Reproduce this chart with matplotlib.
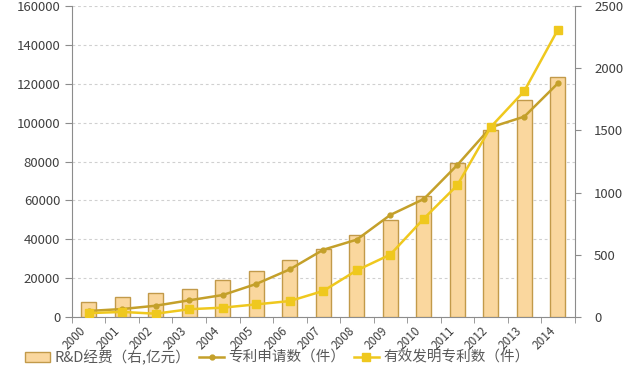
import numpy as np
import matplotlib
matplotlib.use('Agg')
import matplotlib.pyplot as plt

plt.rcParams['font.family'] = ['Noto Sans CJK SC', 'DejaVu Sans']

years = ['2000', '2001', '2002', '2003', '2004', '2005', '2006', '2007',
         '2008', '2009', '2010', '2011', '2012', '2013', '2014']
rd_spend = [121, 164, 191, 225, 295, 367, 459, 549, 657, 783, 970, 1238, 1503, 1744, 1927]
patent_apps = [3100, 4100, 5800, 8600, 11300, 17000, 24500, 34600, 39800, 52500,
               60700, 78200, 97600, 103100, 120200]
valid_patents = [2000, 2600, 1700, 4000, 4800, 6500, 8200, 13400, 24000, 32100,
                 50600, 67800, 97800, 116300, 147800]
left_ticks = [0, 20000, 40000, 60000, 80000, 100000, 120000, 140000, 160000]
right_ticks = [0, 500, 1000, 1500, 2000, 2500]

x = np.arange(len(years))
gray = '#8c8c8c'
txt = '#404040'

fig = plt.figure(figsize=(6.33, 3.78), dpi=100)
ax = fig.add_axes([0.1137, 0.1614, 0.794, 0.8226])
ax.set_xlim(-0.5, len(years) - 0.5)
ax.set_ylim(0, 160000)
ax.set_yticks(left_ticks)
ax.yaxis.grid(True, linestyle=(0, (2.5, 2.5)), color='#d0d0d0', linewidth=0.8)
ax.tick_params(axis='y', labelsize=9.5, colors=txt, length=5, color=gray)
ax.set_xticks(x)
ax.set_xticklabels(years, rotation=45, ha='right', fontsize=8.5)
ax.tick_params(axis='x', length=0, colors=txt, pad=5)
ax.set_xticks(np.arange(len(years) + 1) - 0.5, minor=True)
ax.tick_params(axis='x', which='minor', length=4, color=gray)
for s in ['top', 'right']:
    ax.spines[s].set_visible(False)
ax.spines['left'].set_color(gray)
ax.spines['bottom'].set_color(gray)

# bars on the right axis
axb = ax.twinx()
axb.set_ylim(0, 2500)
axb.set_yticks(right_ticks)
bars = axb.bar(x, rd_spend, width=0.45, color='#FAD79E', edgecolor='#C29A4A', linewidth=1.0,
               label='R&D经费（右,亿元）')
axb.tick_params(axis='y', labelsize=9.5, colors=txt, length=4, color=gray, pad=10)
for s in ['top', 'left', 'bottom']:
    axb.spines[s].set_visible(False)
axb.spines['right'].set_color(gray)

# lines on the left scale
axl = ax.twinx()
axl.set_ylim(0, 160000)
axl.set_yticks([])
for s in axl.spines.values():
    s.set_visible(False)
l1, = axl.plot(x, patent_apps, color='#C4A02A', linewidth=1.8, marker='o', markersize=3.5,
               label='专利申请数（件）')
l2, = axl.plot(x, valid_patents, color='#EFC81E', linewidth=1.8, marker='s', markersize=5.5,
               label='有效发明专利数（件）')

fig.legend(handles=[bars, l1, l2], loc='center left', bbox_to_anchor=(0.04, 0.055), ncol=3,
           frameon=False, fontsize=10.5, labelcolor='#595959', handlelength=1.7,
           columnspacing=0.6, handletextpad=0.3, borderpad=0, borderaxespad=0)

fig.savefig('out.png', dpi=100)
